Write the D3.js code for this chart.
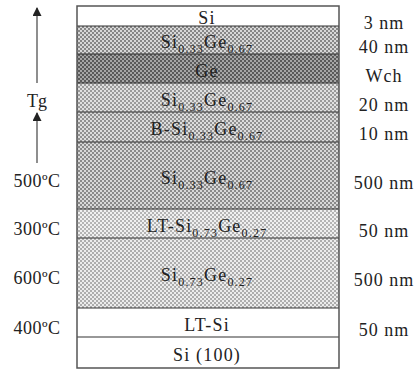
<!DOCTYPE html>
<html>
<head>
<meta charset="utf-8">
<script src="https://cdn.jsdelivr.net/npm/d3@7"></script>
<style>
  body { margin: 0; background: #fff; }
  text { font-family: "Liberation Serif", "DejaVu Serif", serif; fill: #222; }
</style>
</head>
<body>
<svg id="chart"></svg>
<script>
// layer stack, top to bottom
const layerNames = [
  [["Si"]],
  [["Si"], ["0.33", "sub"], ["Ge"], ["0.67", "sub"]],
  [["Ge"]],
  [["Si"], ["0.33", "sub"], ["Ge"], ["0.67", "sub"]],
  [["B-Si"], ["0.33", "sub"], ["Ge"], ["0.67", "sub"]],
  [["Si"], ["0.33", "sub"], ["Ge"], ["0.67", "sub"]],
  [["LT-Si"], ["0.73", "sub"], ["Ge"], ["0.27", "sub"]],
  [["Si"], ["0.73", "sub"], ["Ge"], ["0.27", "sub"]],
  [["LT-Si"]],
  [["Si (100)"]]
];
// drawn height of each layer (not to scale with thickness)
const layerSpan = [20, 28, 29, 29, 30, 67, 29, 70, 29, 31];
const thicknessLabels = ["3 nm", "40 nm", "Wch", "20 nm", "10 nm", "500 nm", "50 nm", "500 nm", "50 nm", ""];
const tempLabels = ["", "", "", "", "", "500ºC", "300ºC", "600ºC", "400ºC", ""];

// checker tones per layer: [dark, light], null = plain white
const tones = [
  null, ["#878787", "#d8d8d8"], ["#5a5a5a", "#a6a6a6"], ["#9a9a9a", "#e0e0e0"],
  ["#909090", "#dcdcdc"], ["#8a8a8a", "#d8d8d8"], ["#b4b4b4", "#f0f0f0"],
  ["#adadad", "#ececec"], null, null
];

const W = 420, H = 374;
const svg = d3.select("#chart").attr("width", W).attr("height", H);

const total = d3.sum(layerSpan);
const y = d3.scaleLinear().domain([0, total]).range([6, 368]);
const x = d3.scaleLinear().domain([0, 1]).range([77, 339]);

const starts = d3.cumsum([0].concat(layerSpan)).slice(0, layerSpan.length);
const layers = layerSpan.map((s, i) => ({
  i, y0: y(starts[i]), y1: y(starts[i] + s), name: layerNames[i],
  thick: thicknessLabels[i], temp: tempLabels[i], tone: tones[i]
}));

const defs = svg.append("defs");
layers.filter(d => d.tone).forEach(d => {
  const p = defs.append("pattern").attr("id", "pat" + d.i)
    .attr("width", 4).attr("height", 4).attr("patternUnits", "userSpaceOnUse");
  p.append("rect").attr("width", 4).attr("height", 4).attr("fill", d.tone[1]);
  p.append("rect").attr("width", 2).attr("height", 2).attr("fill", d.tone[0]);
  p.append("rect").attr("x", 2).attr("y", 2).attr("width", 2).attr("height", 2).attr("fill", d.tone[0]);
});

// layers
svg.selectAll("rect.layer")
  .data(layers)
  .join("rect")
  .attr("class", "layer")
  .attr("x", x(0))
  .attr("y", d => d.y0)
  .attr("width", x(1) - x(0))
  .attr("height", d => d.y1 - d.y0)
  .attr("fill", d => d.tone ? `url(#pat${d.i})` : "#fff");

// boundaries
svg.selectAll("line.sep")
  .data(layers.slice(1))
  .join("line")
  .attr("x1", x(0)).attr("x2", x(1))
  .attr("y1", d => d.y0).attr("y2", d => d.y0)
  .attr("stroke", "#333").attr("stroke-width", 1.2);

svg.append("rect")
  .attr("x", x(0)).attr("y", y(0))
  .attr("width", x(1) - x(0)).attr("height", y(total) - y(0))
  .attr("fill", "none").attr("stroke", "#555").attr("stroke-width", 1.5);

// layer names
const nameText = svg.selectAll("text.name")
  .data(layers)
  .join("text")
  .attr("class", "name")
  .attr("x", 207)
  .attr("y", d => (d.y0 + d.y1) / 2 + 8)
  .attr("text-anchor", "middle")
  .style("font-size", "18px")
  .style("letter-spacing", "1.2px");

nameText.each(function (d) {
  const t = d3.select(this);
  let low = false;
  d.name.forEach(([s, kind]) => {
    const sp = t.append("tspan").text(s);
    if (kind === "sub") {
      sp.attr("dy", 5).style("font-size", "12px");
      low = true;
    } else if (low) {
      sp.attr("dy", -5);
      low = false;
    }
  });
});

// thickness labels
svg.selectAll("text.thick")
  .data(layers.filter(d => d.thick))
  .join("text")
  .attr("class", "thick")
  .attr("x", 384)
  .attr("y", d => (d.y0 + d.y1) / 2 + 13)
  .attr("text-anchor", "middle")
  .style("font-size", "18px")
  .style("letter-spacing", "1px")
  .text(d => d.thick);

// growth temperature labels
svg.selectAll("text.temp")
  .data(layers.filter(d => d.temp))
  .join("text")
  .attr("class", "temp")
  .attr("x", 37)
  .attr("y", d => (d.y0 + d.y1) / 2 + 11)
  .attr("text-anchor", "middle")
  .style("font-size", "18px")
  .style("letter-spacing", "0.5px")
  .text(d => d.temp);

// Tg arrows
defs.append("marker").attr("id", "head")
  .attr("viewBox", "0 0 10 10").attr("refX", 9).attr("refY", 5)
  .attr("markerWidth", 12).attr("markerHeight", 9)
  .attr("markerUnits", "userSpaceOnUse").attr("orient", "auto")
  .append("path").attr("d", "M0,0 L10,5 L0,10 Z").attr("fill", "#222");

const arrows = [[layers[2].y1, y(0) + 2], [layers[5].y0 + 21, layers[4].y0 + 1]];
svg.selectAll("line.arrow")
  .data(arrows)
  .join("line")
  .attr("x1", 37).attr("x2", 37)
  .attr("y1", d => d[0]).attr("y2", d => d[1])
  .attr("stroke", "#444").attr("stroke-width", 1.2)
  .attr("marker-end", "url(#head)");

svg.append("text")
  .attr("x", 37).attr("y", (layers[3].y0 + layers[3].y1) / 2 + 9)
  .attr("text-anchor", "middle")
  .style("font-size", "18px")
  .text("Tg");
</script>
</body>
</html>
